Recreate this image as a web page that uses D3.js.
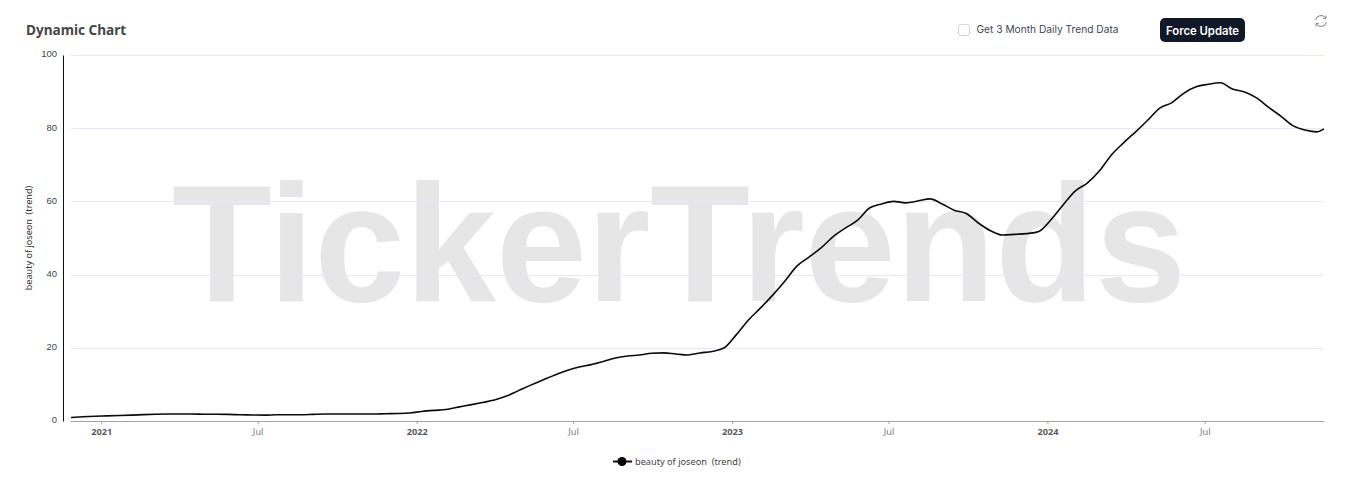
<!DOCTYPE html>
<html><head><meta charset="utf-8">
<script src="https://cdn.jsdelivr.net/npm/d3@7/dist/d3.min.js"></script>
<style>html,body{margin:0;padding:0;background:#fff;overflow:hidden}svg{display:block}</style>
</head><body><svg id="c" width="1348" height="479"></svg>
<script>
const seriesName = "beauty of joseon  (trend)";
const title = "Dynamic Chart";
const checkboxLabel = "Get 3 Month Daily Trend Data";
const buttonLabel = "Force Update";
const watermark = "TickerTrends";
const firstDate = "2020-11-27";
const lastDate = "2024-11-16";
const yTicks = [0,20,40,60,80,100];
const trendValues = [
0.95,1.15,1.3,1.4,1.5,1.6,1.75,1.85,1.9,1.9,1.9,1.85,1.85,1.8,1.7,1.65,1.6,1.7,1.7,1.7,
1.8,1.9,1.9,1.9,1.9,1.9,2.0,2.05,2.2,2.6,2.9,3.15,3.8,4.4,5.05,5.75,6.8,8.3,9.8,11.2,
12.6,13.8,14.75,15.4,16.25,17.2,17.75,18.05,18.5,18.6,18.3,18.05,18.6,19,20,23.6,27.6,30.9,34.4,38.2,
42.3,44.8,47.3,50.4,52.7,54.8,58.2,59.3,60,59.6,60.1,60.7,59.3,57.6,56.7,54.1,52,50.8,51,51.2,
51.8,55,59,62.8,65,68.3,72.7,76,79,82.2,85.5,87,89.6,91.3,92,92.4,90.7,89.9,88.3,85.7,
83.3,80.7,79.5,79,79.8];

const parse = d3.utcParse("%Y-%m-%d");
const dates = d3.utcDay.range(parse(firstDate), parse(lastDate), 14).slice(0, trendValues.length-1).concat([parse(lastDate)]);
const data = dates.map((d,i)=>({d, v:trendValues[i]}));

const svg = d3.select("#c");
const L=71,R=1324,T=55,B=421,AX=63;
const x = d3.scaleUtc().domain([parse(firstDate),parse(lastDate)]).range([L,R]);
const y = d3.scaleLinear().domain([0,100]).range([B,T]);
const uiFont = "'Noto Sans',sans-serif";

// watermark
svg.append("text").attr("x",172).attr("y",301).attr("font-family","'Liberation Sans',Arial,sans-serif")
  .attr("font-weight",700).attr("font-size",167).attr("fill","#e6e6e6")
  .attr("textLength",1014).attr("lengthAdjust","spacingAndGlyphs").text(watermark);

// grid
svg.append("g").selectAll("line").data(yTicks.filter(t=>t>0)).join("line")
  .attr("x1",L).attr("x2",R).attr("y1",d=>Math.round(y(d))+.5).attr("y2",d=>Math.round(y(d))+.5)
  .attr("stroke","#e8e8f3").attr("stroke-width",1);

// y axis
const yAxis = svg.append("g").attr("transform",`translate(${AX},0)`)
  .call(d3.axisLeft(y).tickValues(yTicks).tickSize(0).tickPadding(6));
yAxis.select(".domain").attr("stroke","#111").attr("stroke-width",1);
yAxis.selectAll("text").attr("font-family","'Liberation Sans',Arial,sans-serif").attr("font-size",9.5).attr("fill","#444").attr("dy","0.2em");

// x axis
const xTicks = d3.utcMonth.every(6).range(parse("2021-01-01"),parse("2024-08-01"));
const xAxis = svg.append("g").attr("transform",`translate(0,${B})`)
  .call(d3.axisBottom(x).tickValues(xTicks).tickSize(3).tickPadding(4)
    .tickFormat(d=>d.getUTCMonth()===0?d3.utcFormat("%Y")(d):d3.utcFormat("%b")(d)));
xAxis.select(".domain").attr("stroke","#a3a3a8").attr("d",`M${L},0.5H${R}`);
xAxis.selectAll("line").attr("stroke","#a3a3a8");
xAxis.selectAll("text").attr("font-family",uiFont).attr("font-size",9.2)
  .attr("fill",d=>d.getUTCMonth()===0?"#5a5a62":"#7d7d7d")
  .attr("font-weight",d=>d.getUTCMonth()===0?700:400);

// y label
svg.append("text").attr("transform","translate(32,238) rotate(-90)").attr("text-anchor","middle")
  .attr("font-family",uiFont).attr("font-size",9.1).attr("fill","#333").style("white-space","pre").text(seriesName);

// line
svg.append("path").datum(data).attr("fill","none").attr("stroke","#0b0b0b").attr("stroke-width",1.6)
  .attr("d",d3.line().x(d=>x(d.d)).y(d=>y(d.v)).curve(d3.curveMonotoneX));

// legend
const lg = svg.append("g");
lg.append("line").attr("x1",613).attr("x2",632).attr("y1",461.5).attr("y2",461.5).attr("stroke","#111").attr("stroke-width",2);
lg.append("circle").attr("cx",622).attr("cy",461.5).attr("r",4.5).attr("fill","#000");
lg.append("text").attr("x",635).attr("y",464.5).attr("font-family",uiFont).attr("font-size",9.2).attr("fill","#444").style("white-space","pre").text(seriesName);

// header
svg.append("text").attr("x",26).attr("y",35).attr("font-family",uiFont).attr("font-weight",700).attr("font-size",13.6).attr("fill","#464646").text(title);
svg.append("rect").attr("x",958.5).attr("y",24.5).attr("width",11).attr("height",11).attr("rx",2).attr("fill","#fff").attr("stroke","#d4d4d8");
svg.append("text").attr("x",976.5).attr("y",33).attr("font-family","Inter,sans-serif").attr("font-size",10.2).attr("fill","#3f4654").text(checkboxLabel);
svg.append("rect").attr("x",1160).attr("y",18).attr("width",85).attr("height",24).attr("rx",5).attr("fill","#111827");
svg.append("text").attr("x",1202.5).attr("y",34.5).attr("text-anchor","middle").attr("font-family","Inter,sans-serif").attr("font-weight",600).attr("font-size",11.3).attr("fill","#fff").text(buttonLabel);

// refresh icon
const ic = svg.append("g").attr("transform","translate(1321,21)").attr("fill","none").attr("stroke","#808080").attr("stroke-width",1);
ic.append("path").attr("d","M-5.4,-1 A5.5,5.5 0 0 1 4.6,-3 M5,-5.5 V-2.6 H2.2");
ic.append("path").attr("d","M5.4,1 A5.5,5.5 0 0 1 -4.6,3 M-5,5.5 V2.6 H-2.2");
</script></body></html>
